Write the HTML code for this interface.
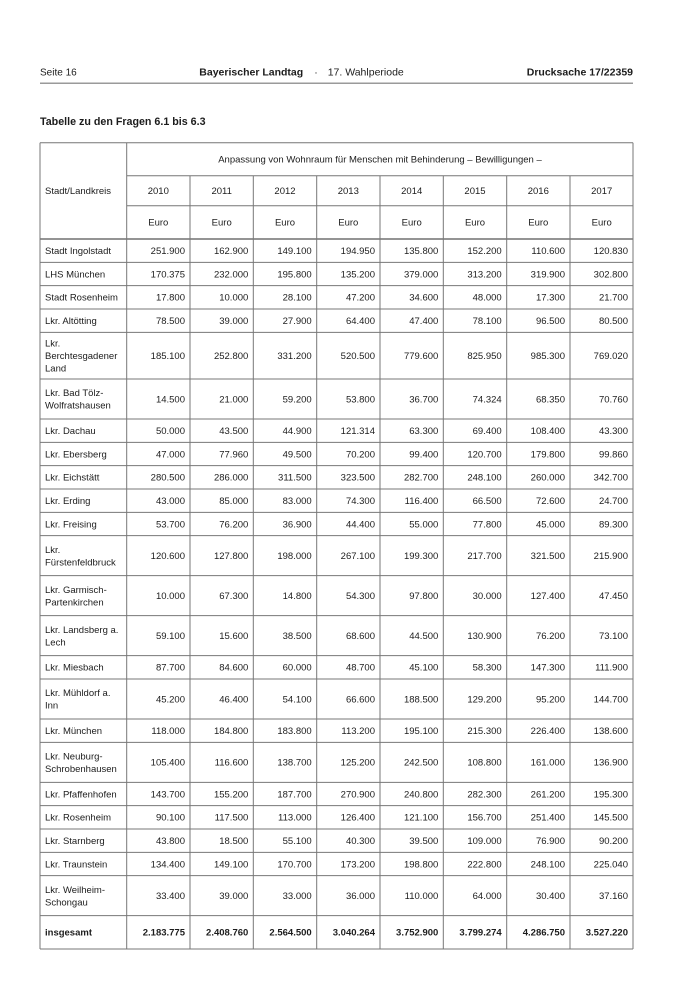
<!DOCTYPE html>
<html>
<head>
<meta charset="utf-8">
<style>
html,body{margin:0;padding:0;background:#fff;}
body{width:700px;height:990px;overflow:hidden;}
svg{display:block;}
text{font-family:"Liberation Sans",Arial,sans-serif;fill:#1c1c1c;}
.t{font-size:9.5px;}
.n{font-size:9.5px;text-anchor:end;}
.c{font-size:9.5px;text-anchor:middle;}
.b{font-weight:bold;}
</style>
</head>
<body>
<svg width="700" height="990" viewBox="0 0 700 990" xmlns="http://www.w3.org/2000/svg">
<rect width="700" height="990" fill="#fff"/>
<!-- page header -->
<text x="40" y="75.3" style="font-size:10px">Seite 16</text>
<text x="199.3" y="75.4" class="b" style="font-size:10.5px">Bayerischer Landtag</text>
<text x="316" y="75.4" style="font-size:10.5px;text-anchor:middle">·</text>
<text x="327.7" y="75.4" style="font-size:10.5px">17. Wahlperiode</text>
<text x="633" y="75.4" class="b" style="font-size:10.5px;text-anchor:end">Drucksache 17/22359</text>
<line x1="40" y1="83.3" x2="633" y2="83.3" stroke="#9a9a9a" stroke-width="1.5"/>
<text x="40" y="124.8" class="b" style="font-size:10.7px">Tabelle zu den Fragen 6.1 bis 6.3</text>

<!-- grid -->
<g stroke="#777" stroke-width="1" fill="none">
<line x1="40" y1="142.7" x2="633" y2="142.7"/>
<line x1="126.7" y1="175.7" x2="633" y2="175.7"/>
<line x1="126.7" y1="205.7" x2="633" y2="205.7"/>
<line x1="40" y1="239" x2="633" y2="239" stroke="#555" stroke-width="1.3"/>
<line x1="40" y1="262.33" x2="633" y2="262.33"/>
<line x1="40" y1="285.67" x2="633" y2="285.67"/>
<line x1="40" y1="309" x2="633" y2="309"/>
<line x1="40" y1="332.33" x2="633" y2="332.33"/>
<line x1="40" y1="379" x2="633" y2="379"/>
<line x1="40" y1="419" x2="633" y2="419"/>
<line x1="40" y1="442.33" x2="633" y2="442.33"/>
<line x1="40" y1="465.67" x2="633" y2="465.67"/>
<line x1="40" y1="489" x2="633" y2="489"/>
<line x1="40" y1="512.33" x2="633" y2="512.33"/>
<line x1="40" y1="535.67" x2="633" y2="535.67"/>
<line x1="40" y1="575.67" x2="633" y2="575.67"/>
<line x1="40" y1="615.67" x2="633" y2="615.67"/>
<line x1="40" y1="655.67" x2="633" y2="655.67"/>
<line x1="40" y1="679" x2="633" y2="679"/>
<line x1="40" y1="719" x2="633" y2="719"/>
<line x1="40" y1="742.33" x2="633" y2="742.33"/>
<line x1="40" y1="782.33" x2="633" y2="782.33"/>
<line x1="40" y1="805.67" x2="633" y2="805.67"/>
<line x1="40" y1="829" x2="633" y2="829"/>
<line x1="40" y1="852.33" x2="633" y2="852.33"/>
<line x1="40" y1="875.67" x2="633" y2="875.67"/>
<line x1="40" y1="915.67" x2="633" y2="915.67"/>
<line x1="40" y1="949" x2="633" y2="949"/>
<line x1="40" y1="142.7" x2="40" y2="949"/>
<line x1="126.7" y1="142.7" x2="126.7" y2="949"/>
<line x1="190" y1="175.7" x2="190" y2="949"/>
<line x1="253.3" y1="175.7" x2="253.3" y2="949"/>
<line x1="316.7" y1="175.7" x2="316.7" y2="949"/>
<line x1="380" y1="175.7" x2="380" y2="949"/>
<line x1="443.3" y1="175.7" x2="443.3" y2="949"/>
<line x1="506.7" y1="175.7" x2="506.7" y2="949"/>
<line x1="570" y1="175.7" x2="570" y2="949"/>
<line x1="633" y1="142.7" x2="633" y2="949"/>
</g>

<!-- table header -->
<text x="45" y="194.2" class="t">Stadt/Landkreis</text>
<text x="380" y="162.6" class="c">Anpassung von Wohnraum für Menschen mit Behinderung – Bewilligungen –</text>
<g transform="translate(0,194.1)">
<text class="c" x="158.3">2010</text><text class="c" x="221.7">2011</text><text class="c" x="285">2012</text><text class="c" x="348.3">2013</text><text class="c" x="411.7">2014</text><text class="c" x="475">2015</text><text class="c" x="538.3">2016</text><text class="c" x="601.7">2017</text>
</g>
<g transform="translate(0,225.7)">
<text class="c" x="158.3">Euro</text><text class="c" x="221.7">Euro</text><text class="c" x="285">Euro</text><text class="c" x="348.3">Euro</text><text class="c" x="411.7">Euro</text><text class="c" x="475">Euro</text><text class="c" x="538.3">Euro</text><text class="c" x="601.7">Euro</text>
</g>

<!-- rows -->
<g transform="translate(0,254.07)">
<text class="t" x="45">Stadt Ingolstadt</text>
<text class="n" x="185">251.900</text><text class="n" x="248.3">162.900</text><text class="n" x="311.7">149.100</text><text class="n" x="375">194.950</text><text class="n" x="438.3">135.800</text><text class="n" x="501.7">152.200</text><text class="n" x="565">110.600</text><text class="n" x="628">120.830</text>
</g>
<g transform="translate(0,277.4)">
<text class="t" x="45">LHS München</text>
<text class="n" x="185">170.375</text><text class="n" x="248.3">232.000</text><text class="n" x="311.7">195.800</text><text class="n" x="375">135.200</text><text class="n" x="438.3">379.000</text><text class="n" x="501.7">313.200</text><text class="n" x="565">319.900</text><text class="n" x="628">302.800</text>
</g>
<g transform="translate(0,300.73)">
<text class="t" x="45">Stadt Rosenheim</text>
<text class="n" x="185">17.800</text><text class="n" x="248.3">10.000</text><text class="n" x="311.7">28.100</text><text class="n" x="375">47.200</text><text class="n" x="438.3">34.600</text><text class="n" x="501.7">48.000</text><text class="n" x="565">17.300</text><text class="n" x="628">21.700</text>
</g>
<g transform="translate(0,324.07)">
<text class="t" x="45">Lkr. Altötting</text>
<text class="n" x="185">78.500</text><text class="n" x="248.3">39.000</text><text class="n" x="311.7">27.900</text><text class="n" x="375">64.400</text><text class="n" x="438.3">47.400</text><text class="n" x="501.7">78.100</text><text class="n" x="565">96.500</text><text class="n" x="628">80.500</text>
</g>
<g transform="translate(0,359.07)">
<text class="t" x="45" y="-12.5">Lkr.</text>
<text class="t" x="45" y="0">Berchtesgadener</text>
<text class="t" x="45" y="12.5">Land</text>
<text class="n" x="185">185.100</text><text class="n" x="248.3">252.800</text><text class="n" x="311.7">331.200</text><text class="n" x="375">520.500</text><text class="n" x="438.3">779.600</text><text class="n" x="501.7">825.950</text><text class="n" x="565">985.300</text><text class="n" x="628">769.020</text>
</g>
<g transform="translate(0,402.4)">
<text class="t" x="45" y="-6.2">Lkr. Bad Tölz-</text>
<text class="t" x="45" y="6.2">Wolfratshausen</text>
<text class="n" x="185">14.500</text><text class="n" x="248.3">21.000</text><text class="n" x="311.7">59.200</text><text class="n" x="375">53.800</text><text class="n" x="438.3">36.700</text><text class="n" x="501.7">74.324</text><text class="n" x="565">68.350</text><text class="n" x="628">70.760</text>
</g>
<g transform="translate(0,434.07)">
<text class="t" x="45">Lkr. Dachau</text>
<text class="n" x="185">50.000</text><text class="n" x="248.3">43.500</text><text class="n" x="311.7">44.900</text><text class="n" x="375">121.314</text><text class="n" x="438.3">63.300</text><text class="n" x="501.7">69.400</text><text class="n" x="565">108.400</text><text class="n" x="628">43.300</text>
</g>
<g transform="translate(0,457.4)">
<text class="t" x="45">Lkr. Ebersberg</text>
<text class="n" x="185">47.000</text><text class="n" x="248.3">77.960</text><text class="n" x="311.7">49.500</text><text class="n" x="375">70.200</text><text class="n" x="438.3">99.400</text><text class="n" x="501.7">120.700</text><text class="n" x="565">179.800</text><text class="n" x="628">99.860</text>
</g>
<g transform="translate(0,480.73)">
<text class="t" x="45">Lkr. Eichstätt</text>
<text class="n" x="185">280.500</text><text class="n" x="248.3">286.000</text><text class="n" x="311.7">311.500</text><text class="n" x="375">323.500</text><text class="n" x="438.3">282.700</text><text class="n" x="501.7">248.100</text><text class="n" x="565">260.000</text><text class="n" x="628">342.700</text>
</g>
<g transform="translate(0,504.07)">
<text class="t" x="45">Lkr. Erding</text>
<text class="n" x="185">43.000</text><text class="n" x="248.3">85.000</text><text class="n" x="311.7">83.000</text><text class="n" x="375">74.300</text><text class="n" x="438.3">116.400</text><text class="n" x="501.7">66.500</text><text class="n" x="565">72.600</text><text class="n" x="628">24.700</text>
</g>
<g transform="translate(0,527.4)">
<text class="t" x="45">Lkr. Freising</text>
<text class="n" x="185">53.700</text><text class="n" x="248.3">76.200</text><text class="n" x="311.7">36.900</text><text class="n" x="375">44.400</text><text class="n" x="438.3">55.000</text><text class="n" x="501.7">77.800</text><text class="n" x="565">45.000</text><text class="n" x="628">89.300</text>
</g>
<g transform="translate(0,559.07)">
<text class="t" x="45" y="-6.2">Lkr.</text>
<text class="t" x="45" y="6.2">Fürstenfeldbruck</text>
<text class="n" x="185">120.600</text><text class="n" x="248.3">127.800</text><text class="n" x="311.7">198.000</text><text class="n" x="375">267.100</text><text class="n" x="438.3">199.300</text><text class="n" x="501.7">217.700</text><text class="n" x="565">321.500</text><text class="n" x="628">215.900</text>
</g>
<g transform="translate(0,599.07)">
<text class="t" x="45" y="-6.2">Lkr. Garmisch-</text>
<text class="t" x="45" y="6.2">Partenkirchen</text>
<text class="n" x="185">10.000</text><text class="n" x="248.3">67.300</text><text class="n" x="311.7">14.800</text><text class="n" x="375">54.300</text><text class="n" x="438.3">97.800</text><text class="n" x="501.7">30.000</text><text class="n" x="565">127.400</text><text class="n" x="628">47.450</text>
</g>
<g transform="translate(0,639.07)">
<text class="t" x="45" y="-6.2">Lkr. Landsberg a.</text>
<text class="t" x="45" y="6.2">Lech</text>
<text class="n" x="185">59.100</text><text class="n" x="248.3">15.600</text><text class="n" x="311.7">38.500</text><text class="n" x="375">68.600</text><text class="n" x="438.3">44.500</text><text class="n" x="501.7">130.900</text><text class="n" x="565">76.200</text><text class="n" x="628">73.100</text>
</g>
<g transform="translate(0,670.73)">
<text class="t" x="45">Lkr. Miesbach</text>
<text class="n" x="185">87.700</text><text class="n" x="248.3">84.600</text><text class="n" x="311.7">60.000</text><text class="n" x="375">48.700</text><text class="n" x="438.3">45.100</text><text class="n" x="501.7">58.300</text><text class="n" x="565">147.300</text><text class="n" x="628">111.900</text>
</g>
<g transform="translate(0,702.4)">
<text class="t" x="45" y="-6.2">Lkr. Mühldorf a.</text>
<text class="t" x="45" y="6.2">Inn</text>
<text class="n" x="185">45.200</text><text class="n" x="248.3">46.400</text><text class="n" x="311.7">54.100</text><text class="n" x="375">66.600</text><text class="n" x="438.3">188.500</text><text class="n" x="501.7">129.200</text><text class="n" x="565">95.200</text><text class="n" x="628">144.700</text>
</g>
<g transform="translate(0,734.07)">
<text class="t" x="45">Lkr. München</text>
<text class="n" x="185">118.000</text><text class="n" x="248.3">184.800</text><text class="n" x="311.7">183.800</text><text class="n" x="375">113.200</text><text class="n" x="438.3">195.100</text><text class="n" x="501.7">215.300</text><text class="n" x="565">226.400</text><text class="n" x="628">138.600</text>
</g>
<g transform="translate(0,765.73)">
<text class="t" x="45" y="-6.2">Lkr. Neuburg-</text>
<text class="t" x="45" y="6.2">Schrobenhausen</text>
<text class="n" x="185">105.400</text><text class="n" x="248.3">116.600</text><text class="n" x="311.7">138.700</text><text class="n" x="375">125.200</text><text class="n" x="438.3">242.500</text><text class="n" x="501.7">108.800</text><text class="n" x="565">161.000</text><text class="n" x="628">136.900</text>
</g>
<g transform="translate(0,797.4)">
<text class="t" x="45">Lkr. Pfaffenhofen</text>
<text class="n" x="185">143.700</text><text class="n" x="248.3">155.200</text><text class="n" x="311.7">187.700</text><text class="n" x="375">270.900</text><text class="n" x="438.3">240.800</text><text class="n" x="501.7">282.300</text><text class="n" x="565">261.200</text><text class="n" x="628">195.300</text>
</g>
<g transform="translate(0,820.73)">
<text class="t" x="45">Lkr. Rosenheim</text>
<text class="n" x="185">90.100</text><text class="n" x="248.3">117.500</text><text class="n" x="311.7">113.000</text><text class="n" x="375">126.400</text><text class="n" x="438.3">121.100</text><text class="n" x="501.7">156.700</text><text class="n" x="565">251.400</text><text class="n" x="628">145.500</text>
</g>
<g transform="translate(0,844.07)">
<text class="t" x="45">Lkr. Starnberg</text>
<text class="n" x="185">43.800</text><text class="n" x="248.3">18.500</text><text class="n" x="311.7">55.100</text><text class="n" x="375">40.300</text><text class="n" x="438.3">39.500</text><text class="n" x="501.7">109.000</text><text class="n" x="565">76.900</text><text class="n" x="628">90.200</text>
</g>
<g transform="translate(0,867.4)">
<text class="t" x="45">Lkr. Traunstein</text>
<text class="n" x="185">134.400</text><text class="n" x="248.3">149.100</text><text class="n" x="311.7">170.700</text><text class="n" x="375">173.200</text><text class="n" x="438.3">198.800</text><text class="n" x="501.7">222.800</text><text class="n" x="565">248.100</text><text class="n" x="628">225.040</text>
</g>
<g transform="translate(0,899.07)">
<text class="t" x="45" y="-6.2">Lkr. Weilheim-</text>
<text class="t" x="45" y="6.2">Schongau</text>
<text class="n" x="185">33.400</text><text class="n" x="248.3">39.000</text><text class="n" x="311.7">33.000</text><text class="n" x="375">36.000</text><text class="n" x="438.3">110.000</text><text class="n" x="501.7">64.000</text><text class="n" x="565">30.400</text><text class="n" x="628">37.160</text>
</g>
<g transform="translate(0,935.73)">
<text class="t b" x="45">insgesamt</text>
<text class="n b" x="185">2.183.775</text><text class="n b" x="248.3">2.408.760</text><text class="n b" x="311.7">2.564.500</text><text class="n b" x="375">3.040.264</text><text class="n b" x="438.3">3.752.900</text><text class="n b" x="501.7">3.799.274</text><text class="n b" x="565">4.286.750</text><text class="n b" x="628">3.527.220</text>
</g>
</svg>
</body>
</html>
